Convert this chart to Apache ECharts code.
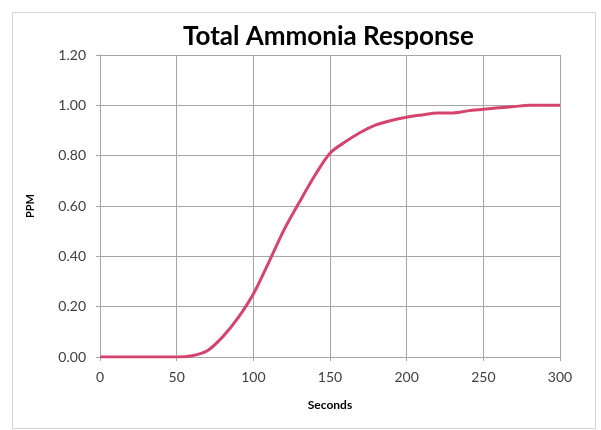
<!DOCTYPE html>
<html>
<head>
<meta charset="utf-8">
<script src="https://cdn.jsdelivr.net/npm/echarts@6/dist/echarts.min.js"></script>
<style>
  html, body { margin: 0; padding: 0; background: #fff; }
  #chart { width: 601px; height: 430px; }
</style>
</head>
<body>
<div id="chart"></div>
<script>
var seconds = [0, 10, 20, 30, 40, 50, 60, 70, 80, 90, 100, 110, 120, 130, 140, 150,
  160, 170, 180, 190, 200, 210, 220, 230, 240, 250, 260, 270, 280, 290, 300];
var ppm = [0, 0, 0, 0, 0, 0, 0.005, 0.025, 0.08, 0.155, 0.25, 0.375, 0.505, 0.615, 0.72, 0.81,
  0.855, 0.893, 0.922, 0.94, 0.953, 0.962, 0.97, 0.97, 0.978, 0.984, 0.99, 0.995, 1.0, 1.0, 1.0];

var points = seconds.map(function (s, i) {
  return [s, ppm[i]];
});

var gridColor = '#a6a6a6';
var labelColor = '#404040';

var option = {
  backgroundColor: '#fff',
  animation: false,
  title: {
    text: 'Total Ammonia Response',
    left: 178,
    top: 19,
    textStyle: {
      fontFamily: 'Lato',
      fontSize: 26,
      fontWeight: 'bold',
      color: '#000'
    }
  },
  graphic: [{
    type: 'rect',
    shape: { x: 12.5, y: 12.5, width: 583, height: 416 },
    style: { fill: 'none', stroke: '#d4d4d4', lineWidth: 1 },
    silent: true
  }],
  grid: {
    left: 100,
    right: 41,
    top: 55,
    bottom: 73,
    containLabel: false,
    outerBoundsMode: 'none'
  },
  xAxis: {
    type: 'value',
    min: 0,
    max: 300,
    interval: 50,
    name: 'Seconds',
    nameLocation: 'middle',
    nameGap: 42,
    nameTextStyle: { fontFamily: 'Lato', fontWeight: 'bold', fontSize: 12, color: '#000' },
    axisLine: { show: true, lineStyle: { color: gridColor } },
    axisTick: { show: true, length: 4, lineStyle: { color: gridColor } },
    axisLabel: { fontFamily: 'Lato', fontSize: 14, color: labelColor, margin: 13 },
    splitLine: { show: true, lineStyle: { color: gridColor, width: 1 } }
  },
  yAxis: {
    type: 'value',
    min: 0,
    max: 1.2,
    interval: 0.2,
    name: 'PPM',
    nameLocation: 'middle',
    nameGap: 64,
    nameRotate: 90,
    nameTextStyle: { fontFamily: 'Lato', fontWeight: 'bold', fontSize: 11, color: '#000' },
    axisLine: { show: true, lineStyle: { color: gridColor } },
    axisTick: { show: true, length: 4, lineStyle: { color: gridColor } },
    axisLabel: {
      fontFamily: 'Lato', fontSize: 14, color: labelColor, margin: 14,
      formatter: function (v) { return v.toFixed(2); }
    },
    splitLine: { show: true, lineStyle: { color: gridColor, width: 1 } }
  },
  series: [{
    type: 'line',
    data: points,
    smooth: 0.3,
    showSymbol: false,
    lineStyle: { color: '#d4446e', width: 3 },
    itemStyle: { color: '#d4446e' }
  }]
};

var chart = echarts.init(document.getElementById('chart'));
chart.setOption(option);
</script>
</body>
</html>
